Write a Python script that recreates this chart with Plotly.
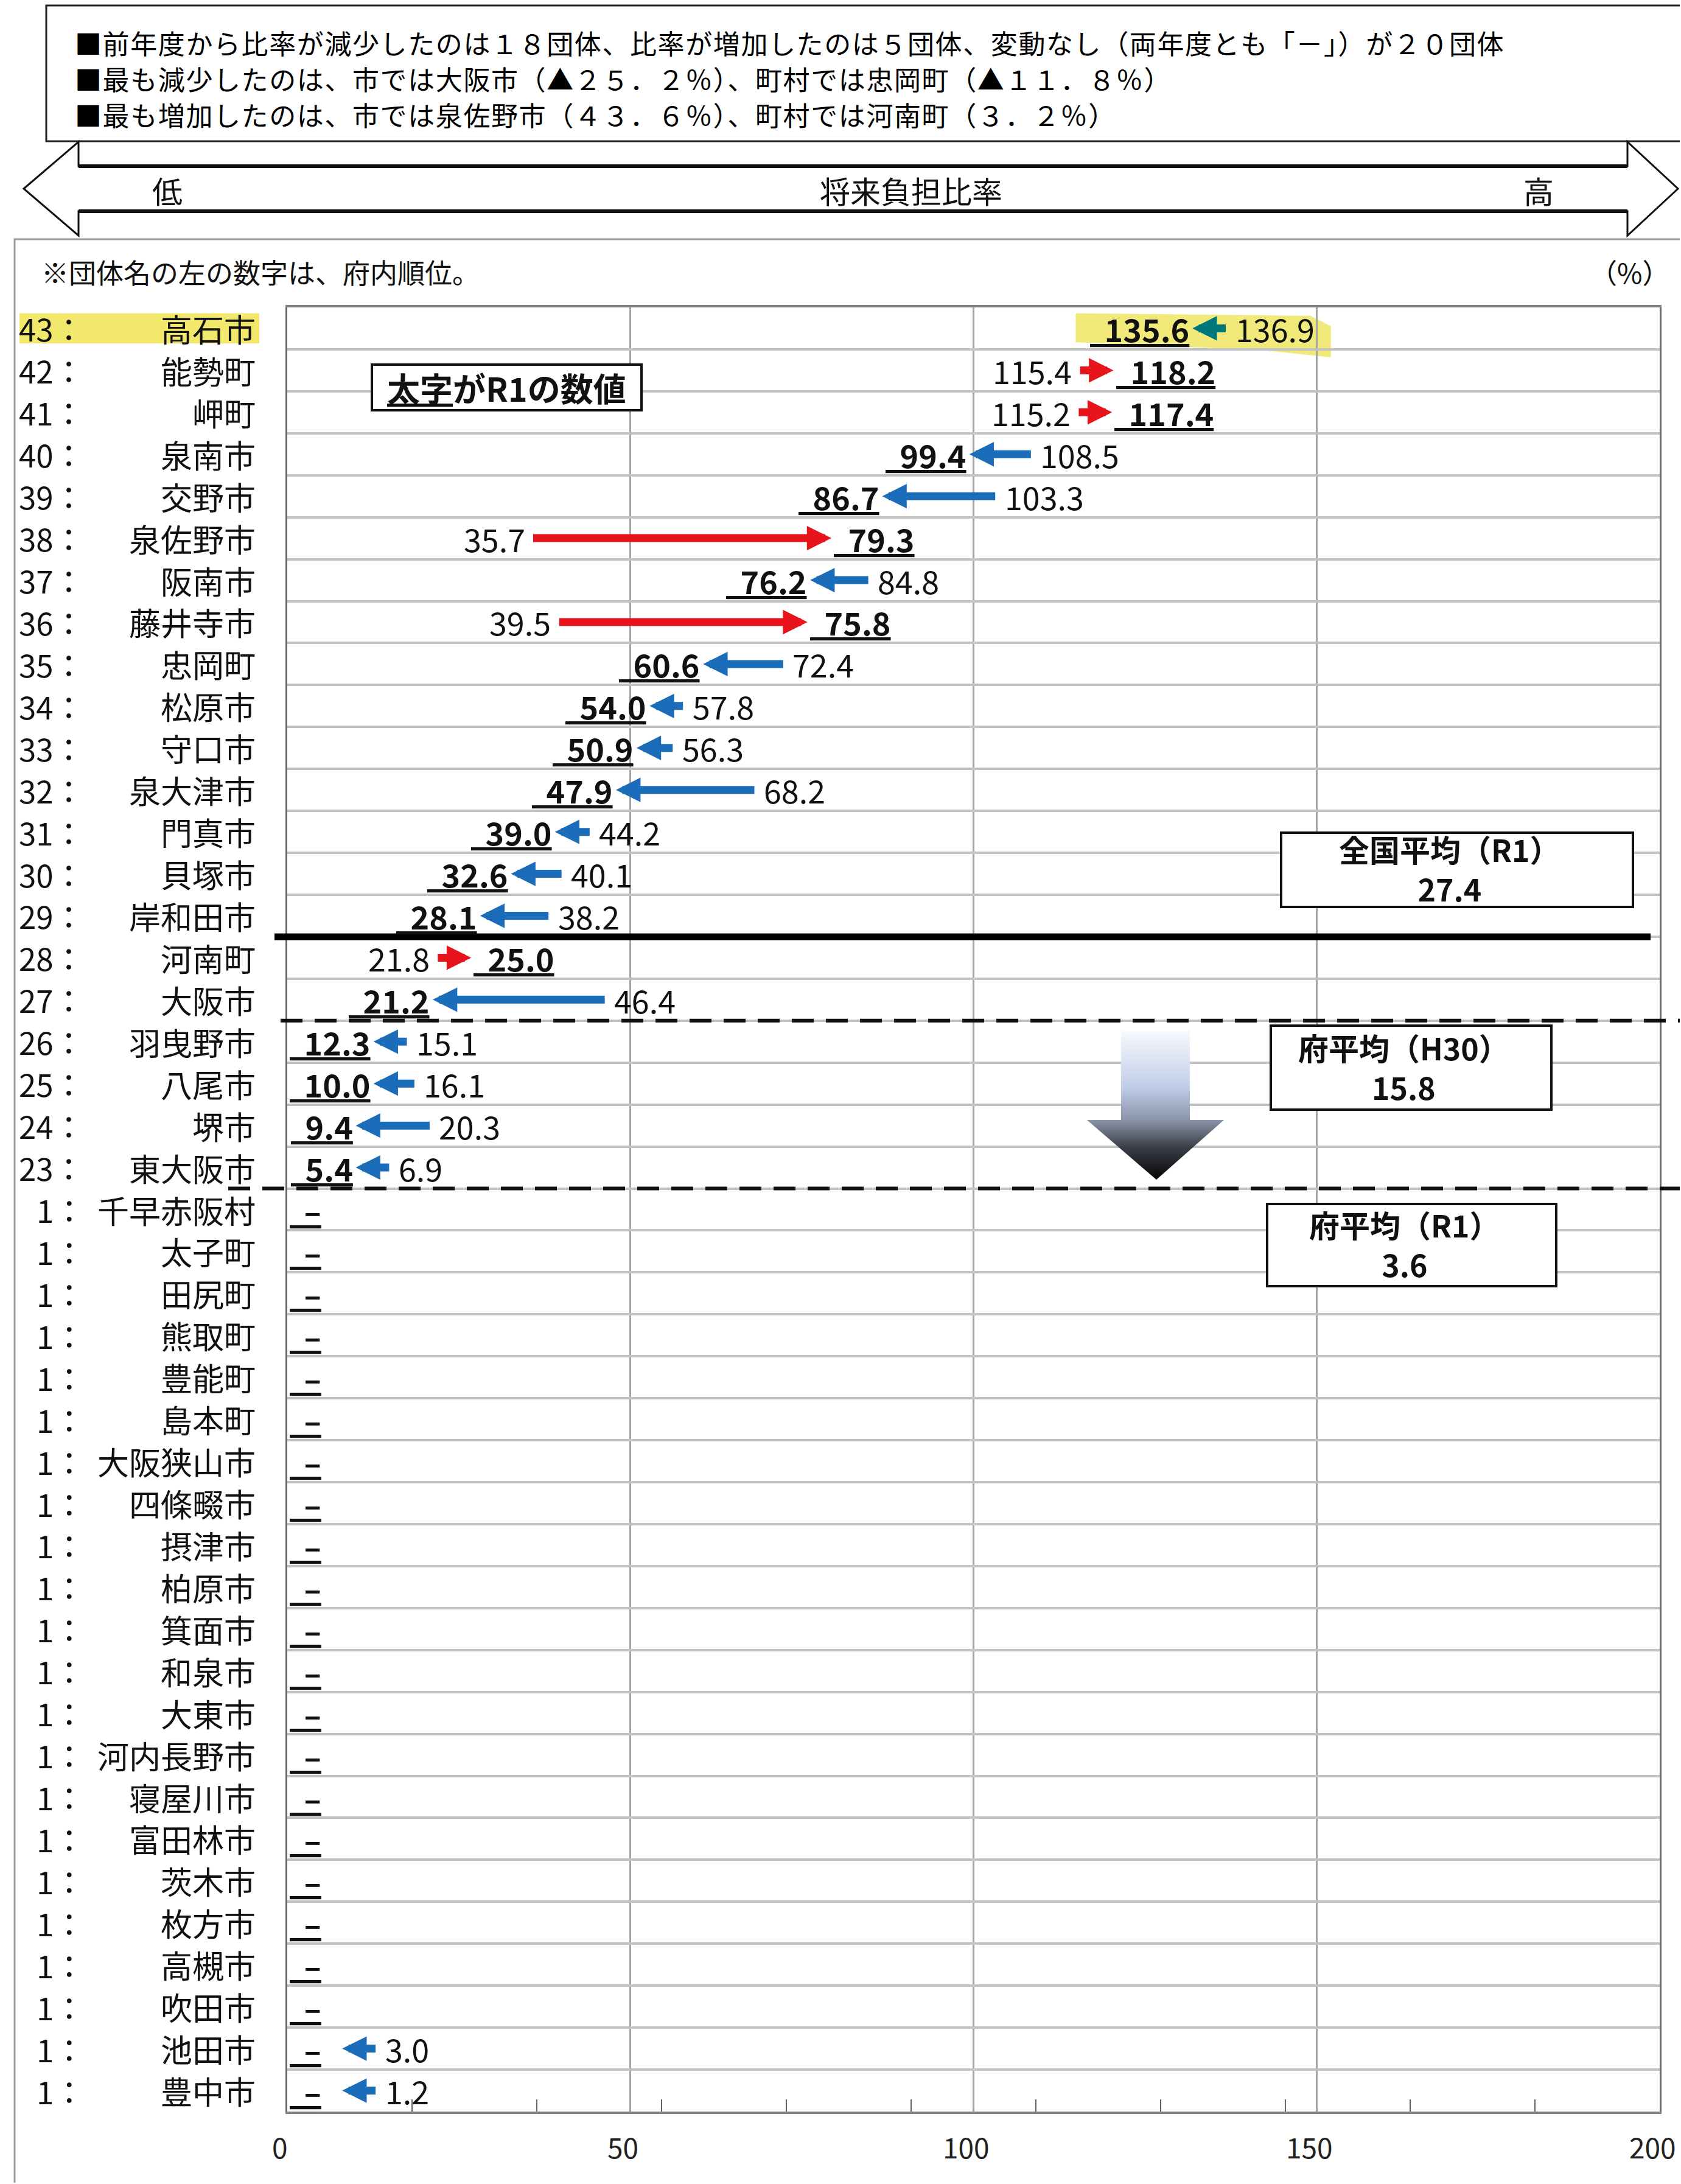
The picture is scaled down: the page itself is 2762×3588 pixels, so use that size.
import plotly.graph_objects as go

W, H = 2762, 3588
FONT = "Noto Sans CJK JP"

# ---------------- data ----------------
ranks = [43, 42, 41, 40, 39, 38, 37, 36, 35, 34, 33, 32, 31, 30, 29, 28, 27, 26, 25, 24, 23] + [1] * 22
names = ["高石市", "能勢町", "岬町", "泉南市", "交野市", "泉佐野市", "阪南市", "藤井寺市", "忠岡町",
         "松原市", "守口市", "泉大津市", "門真市", "貝塚市", "岸和田市", "河南町", "大阪市",
         "羽曳野市", "八尾市", "堺市", "東大阪市",
         "千早赤阪村", "太子町", "田尻町", "熊取町", "豊能町", "島本町", "大阪狭山市", "四條畷市",
         "摂津市", "柏原市", "箕面市", "和泉市", "大東市", "河内長野市", "寝屋川市", "富田林市",
         "茨木市", "枚方市", "高槻市", "吹田市", "池田市", "豊中市"]
r1_values = [135.6, 118.2, 117.4, 99.4, 86.7, 79.3, 76.2, 75.8, 60.6, 54.0, 50.9, 47.9, 39.0,
             32.6, 28.1, 25.0, 21.2, 12.3, 10.0, 9.4, 5.4] + [None] * 22
h30_values = [136.9, 115.4, 115.2, 108.5, 103.3, 35.7, 84.8, 39.5, 72.4, 57.8, 56.3, 68.2, 44.2,
              40.1, 38.2, 21.8, 46.4, 15.1, 16.1, 20.3, 6.9] + [None] * 20 + [3.0, 1.2]
national_avg_r1 = 27.4
pref_avg_h30 = 15.8
pref_avg_r1 = 3.6
x_ticks = [0, 50, 100, 150, 200]
minor_tick_count = 11

header_lines = [
    "■前年度から比率が減少したのは１８団体、比率が増加したのは５団体、変動なし（両年度とも「－」）が２０団体",
    "■最も減少したのは、市では大阪市（▲２５．２％）、町村では忠岡町（▲１１．８％）",
    "■最も増加したのは、市では泉佐野市（４３．６％）、町村では河南町（３．２％）",
]
note_text = "※団体名の左の数字は、府内順位。"
unit_text = "（%）"
arrow_texts = ["低", "将来負担比率", "高"]
HIGHLIGHT_NAME = "高石市"

# ---------------- layout geometry (pixels of the page) ----------------
X0, X1, Y0, Y1 = 472, 2727, 505, 3469
n = len(names)
XMAX = 200.0
PXU = (X1 - X0) / XMAX


def px(x):
    return x / W


def py(y):
    return 1 - y / H


def text_units(s, size):
    em = 0.0
    for c in s:
        if c.isdigit():
            em += 0.56
        elif c == ".":
            em += 0.28
        elif c == "\u00a0":
            em += 0.23
        else:
            em += 0.5
    return em * size / PXU


RED = "#E8141C"
BLUE = "#1B6DBA"
TEAL = "#00777A"
NB = "\u00a0\u00a0"
VSIZE = 52
UL = "text-decoration:underline;text-decoration-color:#444;text-decoration-thickness:4px"


def r1_label(s):
    return f'<b><span style="{UL}">{NB}{s}</span></b>'


def poly(points, close=True):
    s = "M " + " L ".join(f"{px(a):.5f},{py(b):.5f}" for a, b in points)
    return s + (" Z" if close else "")


annotations = []
shapes = []

# ---- decorations: header box (open on the right), double arrow, frame ----
shapes.append(dict(type="path", xref="paper", yref="paper",
                   path=poly([(W - 2, 9), (76, 9), (76, 232), (W - 2, 232)], close=False),
                   line=dict(color="#222", width=3), layer="above"))
for k, t in enumerate(header_lines):
    annotations.append(dict(xref="paper", yref="paper", x=px(121), y=py([70, 129, 188][k]),
                            xanchor="left", yanchor="middle",
                            text=f'<span style="letter-spacing:1.6px">{t}</span>',
                            showarrow=False, font=dict(family=FONT, size=44, color="#000")))

pts = [(39, 310), (129, 233), (129, 273), (2674, 273), (2674, 233), (2757, 310),
       (2674, 387), (2674, 347), (129, 347), (129, 387)]
shapes.append(dict(type="path", xref="paper", yref="paper", path=poly(pts),
                   line=dict(color="#111", width=3), fillcolor="white", layer="above"))
for yy in (273, 347):
    shapes.append(dict(type="line", xref="paper", yref="paper", x0=px(129), x1=px(2674),
                       y0=py(yy), y1=py(yy), line=dict(color="#111", width=6)))
for xx, t in zip([275, 1497, 2528], arrow_texts):
    annotations.append(dict(xref="paper", yref="paper", x=px(xx), y=py(312), text=t,
                            showarrow=False, xanchor="center", yanchor="middle",
                            font=dict(family=FONT, size=50, color="#111")))

shapes.append(dict(type="path", xref="paper", yref="paper",
                   path=poly([(W - 2, 393), (24, 393), (24, H - 2)], close=False),
                   line=dict(color="#9a9a9a", width=3), layer="below"))
annotations.append(dict(xref="paper", yref="paper", x=px(66), y=py(447), text=note_text,
                        showarrow=False, xanchor="left", yanchor="middle",
                        font=dict(family=FONT, size=45, color="#111")))
annotations.append(dict(xref="paper", yref="paper", x=px(2745), y=py(447), text=unit_text,
                        showarrow=False, xanchor="right", yanchor="middle",
                        font=dict(family=FONT, size=45, color="#111")))

# ---- x tick labels (placed just under the axis) and small ticks every 200/11 ----
for v in x_ticks:
    annotations.append(dict(xref="x", yref="paper", x=v, y=py(Y1 + 22), text=str(v),
                            showarrow=False, xanchor="center", yanchor="top", xshift=-12,
                            font=dict(family=FONT, size=46, color="#222")))
for k in range(1, minor_tick_count):
    xv = k * XMAX / minor_tick_count
    shapes.append(dict(type="line", xref="x", yref="y domain", x0=xv, x1=xv,
                       y0=0, y1=20 / (Y1 - Y0), line=dict(color="#666", width=2)))

# ---- rows ----
MIN_LEN = 5.0
for i in range(n):
    r, h = r1_values[i], h30_values[i]
    hl = names[i] == HIGHLIGHT_NAME
    if hl:
        shapes.append(dict(type="rect", xref="paper", yref="y", x0=px(32), x1=px(426),
                           y0=i - 0.36, y1=i + 0.36, fillcolor="#F2E86C",
                           line=dict(width=0), layer="below"))
    annotations.append(dict(xref="paper", yref="y", x=px(141), y=i, text=f"{ranks[i]}：",
                            showarrow=False, xanchor="right", yanchor="middle",
                            font=dict(family=FONT, size=51, color="#111")))
    annotations.append(dict(xref="paper", yref="y", x=px(422), y=i, text=names[i],
                            showarrow=False, xanchor="right", yanchor="middle",
                            font=dict(family=FONT, size=52, color="#111")))
    if r is None:
        annotations.append(dict(xref="x", yref="y", x=0, y=i, text=r1_label("–"),
                                showarrow=False, xanchor="left", yanchor="middle", xshift=2,
                                font=dict(family=FONT, size=VSIZE, color="#111")))
    if h is None:
        continue
    rv = r if r is not None else 0.0
    dec = rv < h
    length = max(abs(rv - h), MIN_LEN)
    tail = h
    head = h - length if dec else h + length
    lo = min(tail, head)
    if r is None:
        minlo = 8.0
    elif dec:
        minlo = 1.0 + text_units(NB + f"{r:.1f}", VSIZE) + 0.4
    else:
        minlo = 1.0 + text_units(f"{h:.1f}", VSIZE) + 1.0
    if lo < minlo:
        tail += minlo - lo
        head += minlo - lo
    color = TEAL if hl else (BLUE if dec else RED)
    annotations.append(dict(xref="x", yref="y", axref="x", ayref="y", x=head, y=i,
                            ax=tail, ay=i, text="", showarrow=True, arrowhead=2,
                            arrowsize=0.62, arrowwidth=13, arrowcolor=color,
                            standoff=0, startstandoff=0, font=dict(size=1)))
    h_txt = f"{h:.1f}"
    if dec:
        if r is not None:
            annotations.append(dict(xref="x", yref="y", x=head, y=i, text=r1_label(f"{r:.1f}"),
                                    showarrow=False, xanchor="right", yanchor="middle",
                                    xshift=-3, font=dict(family=FONT, size=VSIZE, color="#111")))
        annotations.append(dict(xref="x", yref="y", x=tail, y=i, text=h_txt,
                                showarrow=False, xanchor="left", yanchor="middle", xshift=12,
                                font=dict(family=FONT, size=VSIZE, color="#111")))
    else:
        annotations.append(dict(xref="x", yref="y", x=tail, y=i, text=h_txt,
                                showarrow=False, xanchor="right", yanchor="middle", xshift=-10,
                                font=dict(family=FONT, size=VSIZE, color="#111")))
        annotations.append(dict(xref="x", yref="y", x=head, y=i, text=r1_label(f"{r:.1f}"),
                                showarrow=False, xanchor="left", yanchor="middle", xshift=2,
                                font=dict(family=FONT, size=VSIZE, color="#111")))
    if hl:
        xl = head - 3 / PXU - text_units(NB + f"{r:.1f}", VSIZE) - 3.0
        xr = tail + 12 / PXU + text_units(h_txt, VSIZE) + 2.5
        p = [(xl, i - 0.36), (xr - 3, i - 0.3), (xr, i - 0.05), (xr, i + 0.69),
             (xr - 10, i + 0.52), (xl, i + 0.33)]
        shapes.append(dict(type="path", xref="x", yref="y",
                           path="M " + " L ".join(f"{a:.3f},{b:.3f}" for a, b in p) + " Z",
                           fillcolor="#F1EA7A", line=dict(width=0), layer="below"))

# ---- reference lines (boundaries derived from data) ----
def boundary(avg):
    return sum(1 for v in r1_values if v is not None and v > avg) - 0.5


shapes.append(dict(type="line", xref="paper", yref="y", x0=px(451), x1=px(2712),
                   y0=boundary(national_avg_r1), y1=boundary(national_avg_r1),
                   line=dict(color="black", width=11)))
shapes.append(dict(type="line", xref="paper", yref="y", x0=px(461), x1=px(W - 2),
                   y0=boundary(pref_avg_h30), y1=boundary(pref_avg_h30),
                   line=dict(color="#111", width=6, dash="36px,20px")))
shapes.append(dict(type="line", xref="paper", yref="y", x0=px(375), x1=px(W - 2),
                   y0=boundary(pref_avg_r1), y1=boundary(pref_avg_r1),
                   line=dict(color="#111", width=6, dash="36px,20px")))

# ---- text boxes ----
boxes = [
    ((611, 599, 1054, 674), None),
    ((2105, 1368, 2683, 1490), f"全国平均（R1）<br>{national_avg_r1:.1f}"),
    ((2088, 1685, 2549, 1823), f"府平均（H30）<br>{pref_avg_h30:.1f}"),
    ((2082, 1978, 2557, 2113), f"府平均（R1）<br>{pref_avg_r1:.1f}"),
]
for (a, b, c, d), t in boxes:
    shapes.append(dict(type="rect", xref="paper", yref="paper", x0=px(a), x1=px(c),
                       y0=py(d), y1=py(b), line=dict(color="#111", width=4),
                       fillcolor="white", layer="above"))
    if t is not None:
        annotations.append(dict(xref="paper", yref="paper", x=px((a + c) / 2 - 12),
                                y=py((b + d) / 2 - 2), text=f"<b>{t}</b>", showarrow=False,
                                xanchor="center", yanchor="middle", align="center",
                                font=dict(family=FONT, size=50, color="#111")))
annotations.append(dict(xref="paper", yref="paper", x=px(832), y=py(636),
                        text='<b><span style="text-decoration:underline">太字</span>がR1の数値</b>',
                        showarrow=False, xanchor="center", yanchor="middle",
                        font=dict(family=FONT, size=54, color="#111")))

fig = go.Figure()

# gradient "down" arrow (decoration on a pixel overlay axis)
gx = [1842, 1955, 1955, 2011, 1900, 1786, 1842, 1842]
gy = [1693, 1693, 1840, 1840, 1938, 1840, 1840, 1693]
fig.add_trace(go.Scatter(
    x=gx, y=[H - v for v in gy], xaxis="x2", yaxis="y2", mode="lines",
    line=dict(width=0, color="rgba(0,0,0,0)"), fill="toself",
    fillgradient=dict(type="vertical", start=H - 1938, stop=H - 1693,
                      colorscale=[[0, "#050505"], [0.22, "#3b3f48"], [0.4, "#8a94a9"],
                                  [0.62, "#c0cde8"], [1, "#f8f9fd"]]),
    hoverinfo="skip", showlegend=False))

fig.update_layout(
    width=W, height=H, margin=dict(l=0, r=0, t=0, b=0),
    paper_bgcolor="white", plot_bgcolor="rgba(0,0,0,0)", showlegend=False,
    font=dict(family=FONT, color="#111"),
    xaxis=dict(domain=[X0 / W, X1 / W], range=[0, XMAX], tickmode="array", tickvals=x_ticks,
               showticklabels=False, showgrid=True, gridcolor="#a4a4a4", gridwidth=3,
               zeroline=False, showline=True, linecolor="#808080", linewidth=4, mirror=True,
               ticks="", fixedrange=True),
    yaxis=dict(domain=[1 - Y1 / H, 1 - Y0 / H], range=[n - 0.5, -0.5], tickmode="array",
               tickvals=[k - 0.5 for k in range(n + 1)], showticklabels=False, ticks="",
               showgrid=True, gridcolor="#c2c2c2", gridwidth=4, zeroline=False,
               showline=True, linecolor="#6a6a6a", linewidth=3, mirror=True,
               fixedrange=True),
    xaxis2=dict(domain=[0, 1], range=[0, W], visible=False, anchor="y2", fixedrange=True),
    yaxis2=dict(domain=[0, 1], range=[0, H], visible=False, anchor="x2", fixedrange=True),
    shapes=shapes, annotations=annotations,
)

fig.write_html("out.html", config={"displayModeBar": False},
               post_script="document.body.style.margin='0px';document.body.style.overflow='hidden';")
